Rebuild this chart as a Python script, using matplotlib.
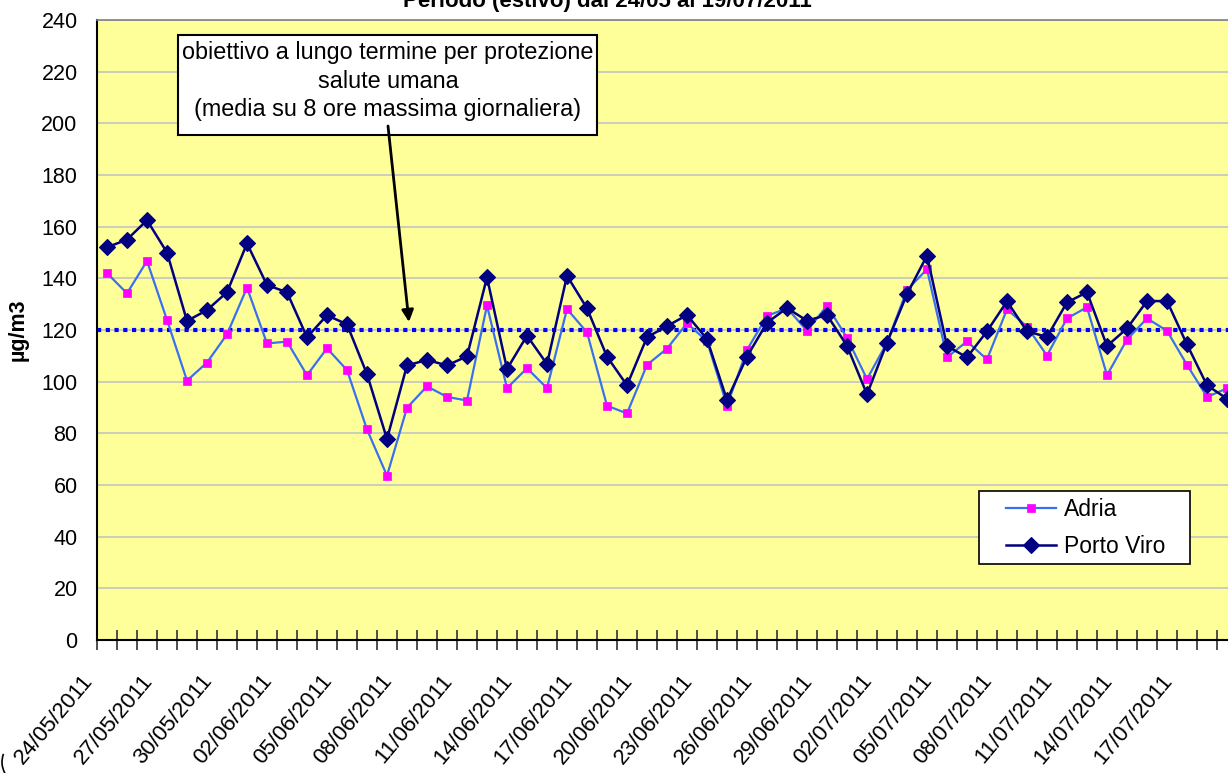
import matplotlib
matplotlib.use("Agg")
import matplotlib.pyplot as plt
from matplotlib.patches import Rectangle, Arc, FancyArrowPatch
import pandas as pd

plt.rcParams['font.family'] = ['Liberation Sans', 'DejaVu Sans']

dates = pd.date_range("2011-05-24", "2011-07-19", freq="D").strftime("%d/%m/%Y").tolist()

adria = [142, 134.2, 146.7, 123.9, 100.4, 107.4, 118.3, 136.4, 114.8, 115.5,
         102.5, 112.9, 104.5, 81.5, 63.6, 89.9, 98.2, 94.1, 92.7, 129.5,
         97.5, 105.2, 97.5, 128.1, 119.1, 90.7, 87.7, 106.5, 112.8, 122.6,
         115.7, 90.7, 112.3, 125.4, 128.5, 119.7, 129.4, 117.0,
         101, 115.1, 135.5, 143.5, 109.4, 115.6, 108.6, 128, 121.3, 110.1,
         124.5, 128.8, 102.5, 116.3, 124.5, 119.7, 106.5, 94.1, 97.4]
porto_viro = [152, 155, 162.5, 150, 123.5, 127.7, 134.6, 153.5, 137.4, 134.6,
              117.2, 125.7, 122.2, 102.9, 77.8, 106.3, 108.4, 106.3, 109.8, 140.4,
              104.9, 117.8, 106.8, 141, 128.4, 109.7, 98.6, 117.2, 121.5, 125.8,
              116.5, 92.9, 109.7, 122.8, 128.5, 123.6, 125.8, 113.9,
              95.1, 115.1, 133.9, 148.8, 113.8, 109.4, 119.5, 131.1, 119.5, 117.3,
              130.7, 134.6, 113.8, 120.6, 131.2, 131.2, 114.4, 98.6, 93.4]
target = 120
yticks = list(range(0, 241, 20))
title = "Periodo (estivo) dal 24/05 al 19/07/2011"
annot = "obiettivo a lungo termine per protezione\nsalute umana\n(media su 8 ore massima giornaliera)"

W, H = 1228, 773
fig = plt.figure(figsize=(W / 100, H / 100), dpi=100)
fig.patch.set_facecolor("white")

def fx(px):
    return px / W

def fy(py):
    return 1 - py / H

ax = fig.add_axes([fx(97), fy(640), (1237 - 97) / W, 620 / H])
ax.set_facecolor("#FFFF99")

n = len(dates)
x = list(range(n))
ax.set_xlim(-0.5, n - 0.5)
ax.set_ylim(0, 240)

for yv in yticks[1:]:
    ax.axhline(yv, color="#c8c8c0", lw=1.3, zorder=1)

ax.axhline(target, color="#0000FF", lw=3, linestyle=(0, (1, 1.1)), zorder=2)

ax.plot(x, adria, color="#3a70f0", lw=1.6, marker="s", ms=5.4,
        mfc="#FF00FF", mec="#FF00FF", mew=0.5, label="Adria", zorder=3)
ax.plot(x, porto_viro, color="#000080", lw=1.8, marker="D", ms=7.8,
        mfc="#000080", mec="#000080", mew=0.8, label="Porto Viro", zorder=4)

# axes
ax.set_yticks(yticks)
ax.set_yticklabels([str(v) for v in yticks], fontsize=15.5)
ax.tick_params(axis="y", length=0, pad=14)

bounds = [i - 0.5 for i in range(n + 1)]
ax.set_xticks(bounds)
labels = [dates[i] if (i % 3 == 0 and i < n) else "" for i in range(n + 1)]
ax.set_xticklabels(labels, rotation=50, ha="right", va="top", fontsize=16)
ax.tick_params(axis="x", direction="inout", length=14, width=1.3,
               color="#404040", pad=15)

for s in ["left", "bottom"]:
    ax.spines[s].set_color("black")
    ax.spines[s].set_linewidth(1.5)
ax.spines["top"].set_color("#808080")
ax.spines["top"].set_linewidth(1.2)
ax.spines["right"].set_visible(False)

fig.text(fx(18), fy(330), "µg/m3", rotation=90, fontsize=15.5,
         fontweight="bold", ha="center", va="center")

# title
fig.text(0.495, fy(7), title, ha="center", va="baseline", fontsize=16,
         fontweight="bold")

# annotation box + arrow
ax.add_patch(Rectangle((fx(178), fy(135)), (597 - 178) / W, (135 - 35) / H,
                       transform=fig.transFigure, facecolor="white",
                       edgecolor="black", lw=1.5, zorder=5, clip_on=False))
ax.text(fx(388), fy(81), annot, transform=fig.transFigure, ha="center",
        va="center", fontsize=16.8, linespacing=1.33, zorder=6)
ax.add_patch(FancyArrowPatch(
    (fx(388), fy(126)), (fx(409), fy(322)), transform=fig.transFigure,
    arrowstyle="-|>,head_length=7,head_width=3.5", color="black", lw=2,
    shrinkA=0, shrinkB=0, zorder=7, clip_on=False))

# legend
ax.add_patch(Rectangle((fx(979), fy(564)), (1190 - 979) / W, (564 - 491) / H,
                       transform=fig.transFigure, facecolor="white",
                       edgecolor="black", lw=1.2, zorder=8, clip_on=False))
leg = ax.legend(loc="upper left", bbox_to_anchor=(fx(1006), fy(498)),
                bbox_transform=fig.transFigure, frameon=False, fontsize=16.5,
                handlelength=2.2, handletextpad=0.35, labelspacing=0.6,
                borderpad=0, borderaxespad=0)
leg.set_zorder(9)

# corner arc artifact
fig.add_artist(Arc((fx(25), 11 / H), 46 / W, 46 / H, theta1=149, theta2=222,
                   transform=fig.transFigure, color="black", lw=1.2))

fig.savefig("out.png", dpi=100)
